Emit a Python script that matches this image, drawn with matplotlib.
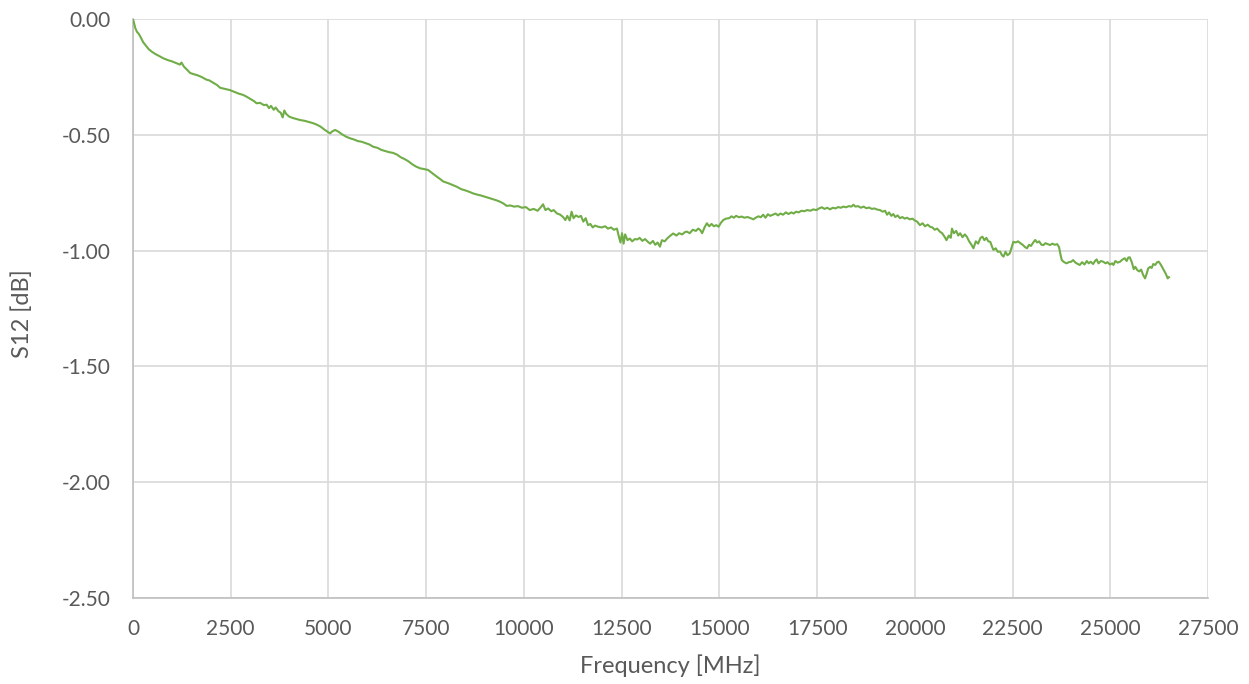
import matplotlib
matplotlib.use('Agg')
import matplotlib.pyplot as plt
from matplotlib.ticker import FuncFormatter

# frequency points [MHz] and S12 [dB]
freq = [0, 30, 60, 100, 150, 200, 260, 330, 400, 480, 560, 650, 780, 900, 1000,
        1100, 1200, 1240, 1300, 1400, 1460, 1550, 1650, 1750, 1880, 1950, 2050,
        2150, 2230, 2350, 2480, 2600, 2700, 2820, 2900, 3000, 3100, 3160, 3250,
        3350, 3420, 3480, 3530, 3600, 3650, 3720, 3780, 3830, 3870, 3920, 4000,
        4100, 4270, 4400, 4500, 4610, 4700, 4800, 4900, 5040, 5100, 5170, 5250,
        5350, 5450, 5550, 5650, 5750, 5850, 5950, 6050, 6150, 6250, 6350, 6450,
        6550, 6650, 6750, 6850, 6950, 7050, 7150, 7250, 7350, 7450, 7550, 7650,
        7750, 7850, 7940, 8050, 8150, 8280, 8400, 8500, 8600, 8700, 8800, 8900,
        9050, 9200, 9300, 9390, 9480, 9560, 9650, 9750, 9850, 9950, 10050, 10150,
        10250, 10350, 10420, 10490, 10550, 10620, 10700, 10760, 10850, 10930,
        11000, 11060, 11110, 11170, 11220, 11270, 11330, 11400, 11460, 11520,
        11580, 11640, 11700, 11760, 11820, 11900, 11990, 12080, 12150, 12230,
        12300, 12380, 12430, 12470, 12510, 12550, 12590, 12650, 12710, 12770,
        12840, 12900, 12960, 13030, 13100, 13170, 13230, 13300, 13360, 13420,
        13480, 13530, 13600, 13680, 13750, 13820, 13900, 13970, 14050, 14120,
        14170, 14240, 14320, 14400, 14460, 14510, 14560, 14620, 14680, 14740,
        14800, 14860, 14920, 14980, 15040, 15100, 15170, 15250, 15310, 15370,
        15430, 15500, 15570, 15640, 15720, 15800, 15870, 15930, 16000, 16060,
        16120, 16180, 16240, 16300, 16370, 16440, 16500, 16560, 16630, 16700,
        16770, 16840, 16900, 16960, 17030, 17100, 17170, 17250, 17330, 17400,
        17480, 17550, 17620, 17690, 17760, 17830, 17900, 17970, 18040, 18110,
        18170, 18240, 18310, 18380, 18430, 18480, 18550, 18620, 18690, 18760,
        18830, 18900, 18970, 19040, 19110, 19180, 19240, 19290, 19340, 19400,
        19450, 19500, 19560, 19620, 19680, 19740, 19800, 19870, 19940, 20000,
        20060, 20130, 20200, 20260, 20330, 20390, 20450, 20510, 20570, 20640,
        20700, 20760, 20810, 20870, 20920, 20950, 21000, 21060, 21110, 21160,
        21220, 21280, 21330, 21390, 21450, 21500, 21560, 21620, 21680, 21730,
        21780, 21830, 21880, 21930, 21980, 22010, 22070, 22120, 22180, 22230,
        22270, 22320, 22370, 22430, 22480, 22520, 22580, 22640, 22700, 22760,
        22820, 22870, 22920, 22970, 23030, 23080, 23130, 23180, 23240, 23290,
        23340, 23400, 23460, 23520, 23580, 23640, 23690, 23730, 23760, 23820,
        23880, 23940, 24000, 24050, 24110, 24170, 24220, 24280, 24340, 24400,
        24450, 24500, 24560, 24610, 24650, 24700, 24760, 24820, 24880, 24930,
        24990, 25050, 25080, 25130, 25190, 25250, 25300, 25370, 25420, 25460,
        25500, 25550, 25600, 25640, 25690, 25740, 25790, 25840, 25890, 25930,
        25970, 26020, 26060, 26100, 26150, 26200, 26240, 26290, 26320, 26370,
        26420, 26470, 26500]
s12 = [0.000, -0.020, -0.040, -0.055, -0.065, -0.080, -0.100, -0.115, -0.130,
       -0.141, -0.150, -0.158, -0.170, -0.178, -0.183, -0.190, -0.197, -0.188,
       -0.205, -0.222, -0.233, -0.238, -0.243, -0.250, -0.262, -0.265, -0.275,
       -0.285, -0.297, -0.302, -0.307, -0.315, -0.322, -0.328, -0.335, -0.345,
       -0.355, -0.364, -0.362, -0.372, -0.370, -0.385, -0.375, -0.392, -0.382,
       -0.398, -0.405, -0.425, -0.395, -0.410, -0.422, -0.428, -0.436, -0.440,
       -0.445, -0.450, -0.456, -0.465, -0.478, -0.494, -0.485, -0.479, -0.486,
       -0.498, -0.508, -0.515, -0.520, -0.527, -0.530, -0.536, -0.542, -0.552,
       -0.556, -0.565, -0.570, -0.575, -0.578, -0.585, -0.597, -0.605, -0.615,
       -0.628, -0.638, -0.645, -0.648, -0.652, -0.665, -0.678, -0.690, -0.702,
       -0.708, -0.715, -0.724, -0.735, -0.740, -0.746, -0.753, -0.758, -0.762,
       -0.770, -0.778, -0.783, -0.789, -0.797, -0.807, -0.805, -0.810, -0.808,
       -0.815, -0.812, -0.825, -0.820, -0.828, -0.815, -0.800, -0.825, -0.818,
       -0.830, -0.825, -0.840, -0.845, -0.855, -0.868, -0.850, -0.870, -0.832,
       -0.860, -0.848, -0.855, -0.850, -0.875, -0.860, -0.890, -0.885, -0.900,
       -0.892, -0.897, -0.900, -0.895, -0.905, -0.900, -0.910, -0.905, -0.940,
       -0.965, -0.925, -0.970, -0.930, -0.955, -0.948, -0.960, -0.950, -0.952,
       -0.945, -0.958, -0.950, -0.962, -0.970, -0.958, -0.975, -0.965, -0.983,
       -0.955, -0.960, -0.945, -0.935, -0.926, -0.935, -0.925, -0.930, -0.920,
       -0.918, -0.925, -0.910, -0.915, -0.905, -0.911, -0.925, -0.900, -0.882,
       -0.895, -0.885, -0.895, -0.890, -0.897, -0.880, -0.868, -0.862, -0.860,
       -0.852, -0.858, -0.850, -0.856, -0.853, -0.858, -0.855, -0.860, -0.865,
       -0.858, -0.852, -0.856, -0.845, -0.858, -0.843, -0.850, -0.845, -0.840,
       -0.848, -0.840, -0.845, -0.835, -0.842, -0.835, -0.840, -0.832, -0.835,
       -0.828, -0.830, -0.825, -0.828, -0.822, -0.825, -0.818, -0.813, -0.820,
       -0.815, -0.822, -0.815, -0.818, -0.812, -0.815, -0.810, -0.813, -0.808,
       -0.810, -0.802, -0.810, -0.808, -0.815, -0.810, -0.817, -0.814, -0.820,
       -0.818, -0.823, -0.825, -0.832, -0.828, -0.845, -0.835, -0.850, -0.842,
       -0.855, -0.848, -0.860, -0.855, -0.862, -0.858, -0.865, -0.862, -0.870,
       -0.875, -0.890, -0.882, -0.895, -0.888, -0.897, -0.900, -0.910, -0.905,
       -0.918, -0.925, -0.940, -0.955, -0.935, -0.945, -0.905, -0.925, -0.915,
       -0.935, -0.925, -0.942, -0.930, -0.940, -0.960, -0.975, -0.990, -0.960,
       -0.970, -0.945, -0.940, -0.955, -0.945, -0.960, -0.962, -0.985, -0.997,
       -0.990, -1.005, -1.004, -1.020, -1.026, -1.005, -1.020, -1.012, -0.985,
       -0.962, -0.965, -0.960, -0.968, -0.975, -0.985, -0.990, -0.975, -0.980,
       -0.965, -0.954, -0.965, -0.960, -0.975, -0.976, -0.968, -0.972, -0.976,
       -0.970, -0.975, -0.972, -0.985, -1.020, -1.041, -1.050, -1.055, -1.050,
       -1.048, -1.041, -1.052, -1.058, -1.062, -1.050, -1.060, -1.045, -1.055,
       -1.048, -1.058, -1.045, -1.038, -1.055, -1.045, -1.048, -1.055, -1.050,
       -1.060, -1.055, -1.062, -1.045, -1.052, -1.048, -1.040, -1.033, -1.045,
       -1.030, -1.029, -1.050, -1.080, -1.070, -1.084, -1.090, -1.082, -1.105,
       -1.120, -1.100, -1.077, -1.070, -1.075, -1.058, -1.062, -1.050, -1.048,
       -1.060, -1.069, -1.085, -1.100, -1.120, -1.115]

plt.rcParams['font.family'] = ['Lato', 'DejaVu Sans']
plt.rcParams['axes.unicode_minus'] = False

W, H = 1249, 684
fig = plt.figure(figsize=(W / 100, H / 100), dpi=100)
ax = fig.add_axes([133 / W, 1 - 598 / H, 1075 / W, 579 / H])

ax.plot(freq, s12, color='#70AD47', linewidth=1.5, zorder=3)

ax.set_xlim(0, 27500)
ax.set_ylim(-2.5, 0)
ax.set_xticks(range(0, 27501, 2500))
ax.set_yticks([-2.5, -2.0, -1.5, -1.0, -0.5, 0.0])
ax.yaxis.set_major_formatter(FuncFormatter(lambda v, p: '%.2f' % v))

ax.grid(True, color='#d9d9d9', linewidth=1.2)
ax.set_axisbelow(True)
for side in ['top', 'right']:
    ax.spines[side].set_visible(False)
for side in ['left', 'bottom']:
    ax.spines[side].set_color('#bfbfbf')
    ax.spines[side].set_linewidth(1.2)
ax.tick_params(axis='x', length=0, labelsize=15, labelcolor='#595959', pad=15)
ax.tick_params(axis='y', length=0, labelsize=15, labelcolor='#595959', pad=16)

# axis titles placed where Excel puts them
fig.text(670 / W, 1 - 666 / H, 'Frequency [MHz]', fontsize=17, color='#595959',
         ha='center', va='center')
fig.text(22 / W, 1 - 314 / H, 'S12 [dB]', fontsize=17, color='#595959',
         ha='center', va='center', rotation=90)

fig.savefig('out.png', dpi=100)
